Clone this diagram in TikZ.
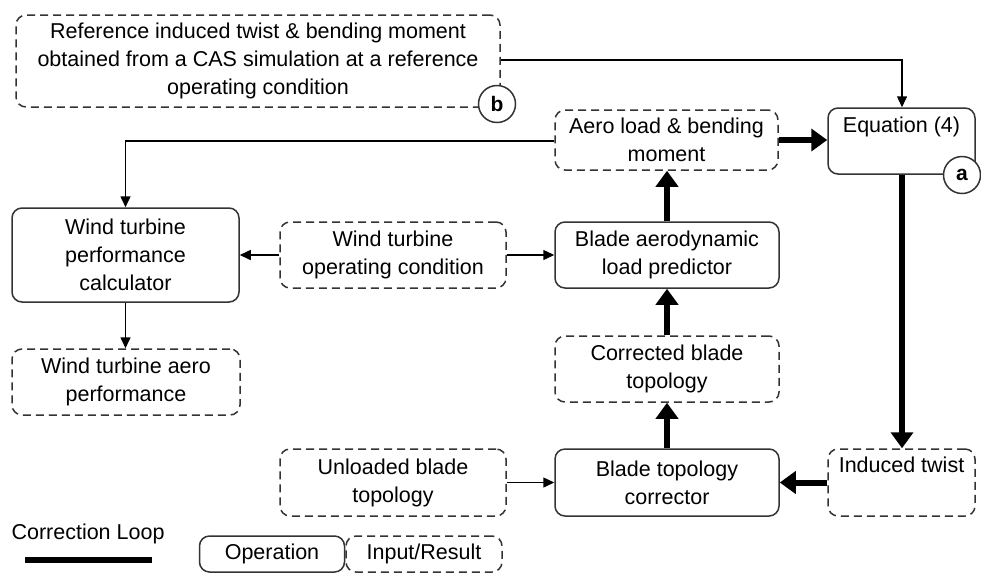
\documentclass[tikz,border=0pt]{standalone}
\usepackage{fontspec}
\setmainfont{Liberation Sans}
\usetikzlibrary{arrows.meta,calc}
\begin{document}
\begin{tikzpicture}[x=1pt,y=-1pt,
  font=\fontsize{21.5}{28}\selectfont,
  box/.style={draw=black!80,line width=1.5pt,rounded corners=10pt,align=center,inner sep=2pt},
  opbox/.style={box},
  iobox/.style={box,dash pattern=on 8pt off 5pt},
  thin/.style={line width=1.5pt,-{Triangle[length=11pt,width=10pt]}},
  thick/.style={line width=6pt,-{Triangle[length=16pt,width=22pt]}},
  tag/.style={circle,draw=black!80,line width=1.5pt,fill=white,minimum size=37pt,inner sep=0pt,font=\fontsize{21}{24}\selectfont\bfseries}
]
\useasboundingbox (0,0) rectangle (981,574);

% input / result boxes
\node[iobox,minimum width=484pt,minimum height=92pt] (ref) at (258,61)
  {Reference induced twist \& bending moment\\obtained from a CAS simulation at a reference\\operating condition};
\node[iobox,minimum width=223pt,minimum height=60pt] (aero) at (666.5,140) {Aero load \& bending\\moment};
\node[iobox,minimum width=226pt,minimum height=66pt] (wtoc) at (393,255) {Wind turbine\\operating condition};
\node[iobox,minimum width=228pt,minimum height=66pt] (wtap) at (126,382) {Wind turbine aero\\performance};
\node[iobox,minimum width=224pt,minimum height=66pt] (cbt) at (667,369) {Corrected blade\\topology};
\node[iobox,minimum width=226pt,minimum height=67pt] (ubt) at (393,482.5) {Unloaded blade\\topology};
\node[iobox,minimum width=147pt,minimum height=67pt] (it) at (901.5,482.5) {};
\node[anchor=north] at ($(it.north)+(0,5)$) {Induced twist};

% operation boxes
\node[opbox,minimum width=147pt,minimum height=66pt] (eq) at (901.5,141) {};
\node[anchor=north] at ($(eq.north)+(0,6)$) {Equation (4)};
\node[opbox,minimum width=227pt,minimum height=94pt] (wtpc) at (125.5,255) {Wind turbine\\performance\\calculator};
\node[opbox,minimum width=224pt,minimum height=66pt] (balp) at (667,255) {Blade aerodynamic\\load predictor};
\node[opbox,minimum width=224pt,minimum height=67pt] (btc) at (667,482.5) {Blade topology\\corrector};

% connectors
\coordinate (c1) at (902,60);
\draw[thin] (ref.east |- c1) -- (c1) -- (c1 |- eq.north);
\coordinate (c2) at (125.5,141);
\draw[thin] (aero.west |- c2) -- (c2) -- (wtpc.north);
\draw[thick] (aero.east) -- (eq.west |- aero.east);
\draw[thick] (balp.north) -- (aero.south -| balp.north);
\draw[thin] (wtoc.west) -- (wtpc.east |- wtoc.west);
\draw[thin] (wtoc.east) -- (balp.west);
\draw[thin] (wtpc.south) -- (wtap.north -| wtpc.south);
\draw[thick] (cbt.north) -- (balp.south);
\draw[thick] (btc.north) -- (cbt.south);
\draw[thin] (ubt.east) -- (btc.west);
\draw[thick] (c1 |- eq.south) -- (c1 |- it.north);
\draw[thick] (it.west) -- (btc.east);

% reference tags
\node[tag] (tb) at (497,104) {b};
\node[tag] (ta) at (962,175) {a};

% legend
\node[anchor=west] (cl) at (8,534) {Correction Loop};
\coordinate (l1) at (25,560);
\coordinate (l2) at (152,560);
\draw[line width=6pt] (l1) -- (l2);
\node[opbox,minimum width=145pt,minimum height=36pt] (lop) at (272,554) {Operation};
\node[iobox,minimum width=156pt,minimum height=36pt] (lio) at (424,554) {Input/Result};
\end{tikzpicture}
\end{document}
